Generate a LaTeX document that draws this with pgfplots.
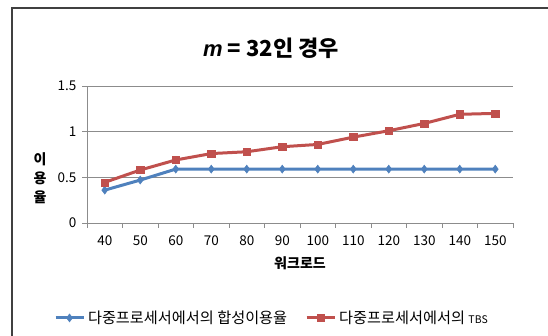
\documentclass[border=0pt]{standalone}
\usepackage{pgfplots}
\pgfplotsset{compat=1.18}
\usepackage{fontspec}
\setmainfont{Noto Sans CJK KR}
\newfontfamily\latinfont{Liberation Sans}
\definecolor{xblue}{HTML}{4F81BD}
\definecolor{xred}{HTML}{C0504D}
\definecolor{xgrid}{HTML}{8C8C8C}
\begin{document}
\begin{tikzpicture}[x=1pt,y=1pt]
\useasboundingbox (0,0) rectangle (548,336);
\draw[line width=1.2pt, black!75] (12,-20) rectangle (570,328);
\node[font=\fontsize{22}{26}\selectfont\bfseries] at (271,288) {{\latinfont\bfseries\itshape m} = 32인 경우};
\node[font=\fontsize{14}{16}\selectfont\bfseries, align=center] at (40,158) {이\\[3pt]용\\[3pt]율};
\begin{axis}[
  at={(87pt,113pt)}, anchor=south west, scale only axis,
  width=426pt, height=137pt,
  xmin=-0.5, xmax=11.5, ymin=0, ymax=1.5,
  xtick={0,...,11},
  xticklabels={40,50,60,70,80,90,100,110,120,130,140,150},
  minor xtick={-0.5,0.5,...,11.5},
  ytick={0,0.5,1,1.5},
  yticklabels={0,0.5,1,1.5},
  axis x line*=bottom, axis y line*=left,
  axis line style={xgrid, line width=0.6pt, -},
  major x tick style={draw=none},
  minor x tick style={xgrid, line width=0.6pt},
  minor tick length=5pt,
  major y tick style={xgrid, line width=0.6pt},
  major tick length=5pt,
  tick align=outside,
  ymajorgrids, grid style={xgrid, line width=0.6pt},
  tick label style={font=\fontsize{13.5}{15}\selectfont},
  /pgf/number format/assume math mode=true,
  xticklabel style={yshift=-4pt},
  yticklabel style={xshift=-2pt},
  xlabel={\bfseries 워크로드},
  xlabel style={font=\fontsize{14}{16}\selectfont, yshift=-4pt},
  legend columns=2,
  legend style={at={(0.434,-0.693)}, anchor=center, draw=none, fill=none,
    font=\fontsize{15.2}{17}\selectfont, column sep=1pt, inner sep=0pt,
    /tikz/every even column/.append style={column sep=16pt}},
  legend cell align=left,
  legend image code/.code={\draw[mark repeat=2,mark phase=2,#1] plot coordinates {(0pt,0pt)(14pt,0pt)(28pt,0pt)};},
]
\addplot[xblue, line width=3pt, mark=diamond*, mark size=4pt, mark options={solid, line width=0.5pt}]
  coordinates {(0,0.36)(1,0.47)(2,0.59)(3,0.59)(4,0.59)(5,0.59)(6,0.59)(7,0.59)(8,0.59)(9,0.59)(10,0.59)(11,0.59)};
\addlegendentry{다중프로세서에서의 합성이용율}
\addplot[xred, line width=3pt, mark=square*, mark size=3.6pt, mark options={solid, line width=0.5pt}]
  coordinates {(0,0.445)(1,0.58)(2,0.69)(3,0.76)(4,0.78)(5,0.835)(6,0.86)(7,0.94)(8,1.01)(9,1.09)(10,1.19)(11,1.20)};
\addlegendentry{다중프로세서에서의 {\fontsize{10.5}{12}\selectfont TBS}}
\end{axis}
\end{tikzpicture}
\end{document}
